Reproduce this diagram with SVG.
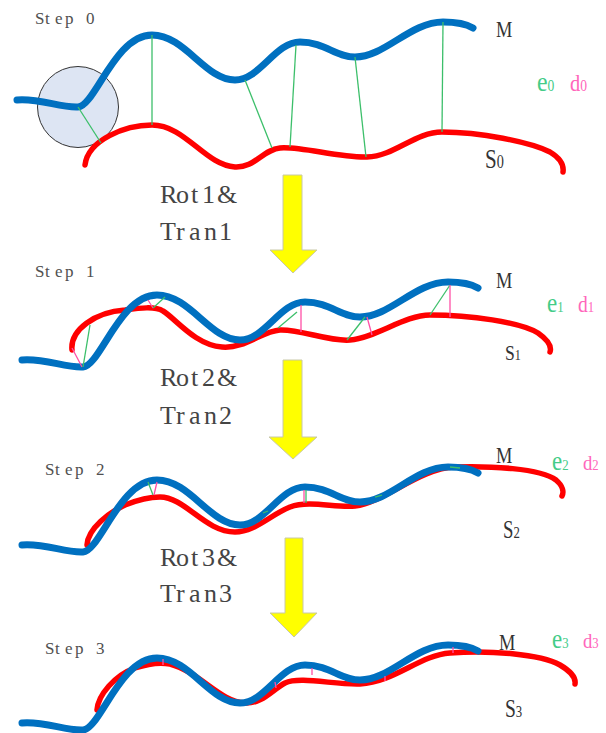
<svg xmlns="http://www.w3.org/2000/svg" width="606" height="733" viewBox="0 0 606 733">
  <style>
    .m { fill: none; stroke: #0070c0; stroke-width: 7; stroke-linecap: round; stroke-linejoin: round; }
    .s { fill: none; stroke: #ff0000; stroke-width: 5.5; stroke-linecap: round; stroke-linejoin: round; }
    .e { stroke: #3cbf6a; stroke-width: 1.3; fill: none; }
    .d { stroke: #ff4fa6; stroke-width: 1.3; fill: none; }
    .arrow { fill: #ffff00; stroke: #c8c8a8; stroke-width: 1; }
    .step { font-family: "Liberation Serif", serif; font-size: 17px; fill: #505050; }
    .op { font-family: "Liberation Serif", serif; font-size: 26px; fill: #444444; }
    .lab { font-family: "Liberation Serif", serif; fill: #333333; }
    .ge { font-family: "Liberation Serif", serif; fill: #44cc88; }
    .pd { font-family: "Liberation Serif", serif; fill: #ff66bb; }
  </style>
  <defs>
    <!-- model curve M, drawn once and placed per step -->
    <path id="mcurve" d="M17,100 C40,98 60,108 78,107 C95,106 115,35 152,35 C185,35 205,80 235,80 C260,80 275,42 300,42 C325,42 335,57 355,57 C385,57 410,22 443,22 C458,22 468,25 473,28"/>
  </defs>
  <rect width="606" height="733" fill="#ffffff"/>

  <!-- Step 0 -->
  <g id="step0">
    <text class="step" x="35 45 55 65 76 86" y="24">Step 0</text>
    <circle id="focus" cx="78" cy="107" r="40.5" fill="#dde5f3" stroke="#333333" stroke-width="1"/>
    <path id="s0" class="s" d="M85,165 C88,140 125,125 152,125 C185,125 205,165 235,167 C255,168 262,150 280,148 C300,146 340,158 367,157 C395,156 415,132 442,132 C480,132 530,142 550,152 C560,158 564,165 563,172"/>
    <use id="m0" href="#mcurve" class="m"/>
  </g>

  <!-- Step 1 -->
  <g id="step1">
    <text class="step" x="35 45 55 65 76 86" y="277">Step 1</text>
    <path id="s1" class="s" d="M72,350 C70,330 95,312 125,310 C140,308 155,306 163,311 C175,318 195,345 222,347 C245,349 262,331 280,330 C300,329 330,342 350,340 C375,338 405,315 430,315 C470,315 520,322 538,333 C548,340 552,346 550,352"/>
    <use id="m1" href="#mcurve" class="m" transform="translate(5,260)"/>
  </g>

  <!-- Step 2 -->
  <g id="step2">
    <text class="step" x="45 55 65 75 86 96" y="475">Step 2</text>
    <path id="s2" class="s" d="M87,545 C88,528 110,512 125,505 C140,499 150,497 160,497 C185,497 205,532 235,532 C255,532 270,515 290,507 C310,500 335,508 355,506 C385,502 420,468 455,467 C490,466 540,468 556,480 C563,486 564,492 562,496"/>
    <use id="m2" href="#mcurve" class="m" transform="translate(5,445)"/>
  </g>

  <!-- Step 3 -->
  <g id="step3">
    <text class="step" x="45 55 65 75 86 96" y="654">Step 3</text>
    <path id="s3" class="s" d="M97,710 C98,695 115,675 135,668 C150,663 160,662 170,664 C200,672 220,702 245,703 C262,704 272,690 285,683 C300,676 335,685 360,684 C395,682 420,655 450,653 C490,650 540,654 560,665 C572,672 576,678 575,684"/>
    <use id="m3" href="#mcurve" class="m" transform="translate(5,623)"/>
  </g>

  <!-- correspondences between M and S -->
  <g id="connectors">
    <line class="e" x1="78" y1="107" x2="101" y2="143"/>
    <line class="e" x1="152" y1="35" x2="152" y2="125"/>
    <line class="e" x1="245" y1="80" x2="272" y2="148"/>
    <line class="e" x1="296" y1="45" x2="290" y2="147"/>
    <line class="e" x1="355" y1="57" x2="366" y2="157"/>
    <line class="e" x1="443" y1="22" x2="442" y2="132"/>

    <line class="d" x1="72" y1="348" x2="82" y2="367"/>
    <line class="e" x1="83" y1="367" x2="90" y2="325"/>
    <line class="d" x1="148" y1="300" x2="153" y2="308"/>
    <line class="e" x1="153" y1="308" x2="165" y2="297"/>
    <line class="e" x1="278" y1="328" x2="297" y2="312"/>
    <line class="d" x1="301" y1="305" x2="301" y2="332"/>
    <line class="e" x1="347" y1="340" x2="365" y2="317"/>
    <line class="d" x1="367" y1="317" x2="372" y2="335"/>
    <line class="e" x1="430" y1="315" x2="450" y2="285"/>
    <line class="d" x1="450" y1="285" x2="450" y2="317"/>

    <line class="e" x1="148" y1="482" x2="153" y2="495"/>
    <line class="d" x1="157" y1="482" x2="154" y2="495"/>
    <line class="e" x1="263" y1="513" x2="268" y2="511"/>
    <line class="d" x1="304" y1="490" x2="304" y2="503"/>
    <line class="e" x1="306" y1="490" x2="306" y2="503"/>
    <line class="e" x1="375" y1="497" x2="382" y2="495"/>
    <line class="e" x1="450" y1="467" x2="460" y2="468"/>

    <line class="d" x1="163" y1="659" x2="163" y2="665"/>
    <line class="d" x1="275" y1="682" x2="276" y2="688"/>
    <line class="d" x1="312" y1="668" x2="312" y2="675"/>
    <line class="d" x1="385" y1="676" x2="385" y2="681"/>
    <line class="d" x1="453" y1="647" x2="453" y2="653"/>
  </g>

  <!-- transformation arrows -->
  <g id="arrow1">
    <polygon class="arrow" points="283,175 302,175 302,250 317,250 293,273 270,250 283,250"/>
    <text class="op" x="160 176 191 202 217" y="203">Rot1&amp;</text>
    <text class="op" x="160 176 189 204 219" y="240">Tran1</text>
  </g>
  <g id="arrow2">
    <polygon class="arrow" points="283,360 302,360 302,437 317,437 293,459 269,437 283,437"/>
    <text class="op" x="160 176 191 202 217" y="386">Rot2&amp;</text>
    <text class="op" x="160 176 189 204 219" y="424">Tran2</text>
  </g>
  <g id="arrow3">
    <polygon class="arrow" points="285,538 303,538 303,613 317,613 294,637 270,613 285,613"/>
    <text class="op" x="160 176 191 202 217" y="566">Rot3&amp;</text>
    <text class="op" x="160 176 189 204 219" y="602">Tran3</text>
  </g>

  <!-- curve labels -->
  <g id="labels0">
    <text class="lab" font-size="23" transform="translate(496,37) scale(0.8,1)">M</text>
    <text class="lab" font-size="28" transform="translate(485,168) scale(0.75,1)">S<tspan font-size="19">0</tspan></text>
    <text transform="translate(537,91) scale(0.85,1)"><tspan class="ge" font-size="28">e</tspan><tspan class="ge" font-size="16">0</tspan></text>
    <text transform="translate(570,91) scale(0.85,1)"><tspan class="pd" font-size="24">d</tspan><tspan class="pd" font-size="16">0</tspan></text>
  </g>
  <g id="labels1">
    <text class="lab" font-size="23" transform="translate(496,288) scale(0.8,1)">M</text>
    <text class="lab" font-size="22" transform="translate(505,360) scale(0.8,1)">S<tspan font-size="15">1</tspan></text>
    <text transform="translate(547,312) scale(0.85,1)"><tspan class="ge" font-size="27">e</tspan><tspan class="ge" font-size="15">1</tspan></text>
    <text transform="translate(578,312) scale(0.85,1)"><tspan class="pd" font-size="23">d</tspan><tspan class="pd" font-size="15">1</tspan></text>
  </g>
  <g id="labels2">
    <text class="lab" font-size="23" transform="translate(496,463) scale(0.8,1)">M</text>
    <text class="lab" font-size="25" transform="translate(503,538) scale(0.75,1)">S<tspan font-size="17">2</tspan></text>
    <text transform="translate(552,470) scale(0.85,1)"><tspan class="ge" font-size="27">e</tspan><tspan class="ge" font-size="15">2</tspan></text>
    <text transform="translate(583,470) scale(0.85,1)"><tspan class="pd" font-size="22">d</tspan><tspan class="pd" font-size="15">2</tspan></text>
  </g>
  <g id="labels3">
    <text class="lab" font-size="23" transform="translate(499,650) scale(0.8,1)">M</text>
    <text class="lab" font-size="26" transform="translate(505,717) scale(0.75,1)">S<tspan font-size="17">3</tspan></text>
    <text transform="translate(552,648) scale(0.85,1)"><tspan class="ge" font-size="27">e</tspan><tspan class="ge" font-size="15">3</tspan></text>
    <text transform="translate(583,648) scale(0.85,1)"><tspan class="pd" font-size="22">d</tspan><tspan class="pd" font-size="15">3</tspan></text>
  </g>
</svg>
